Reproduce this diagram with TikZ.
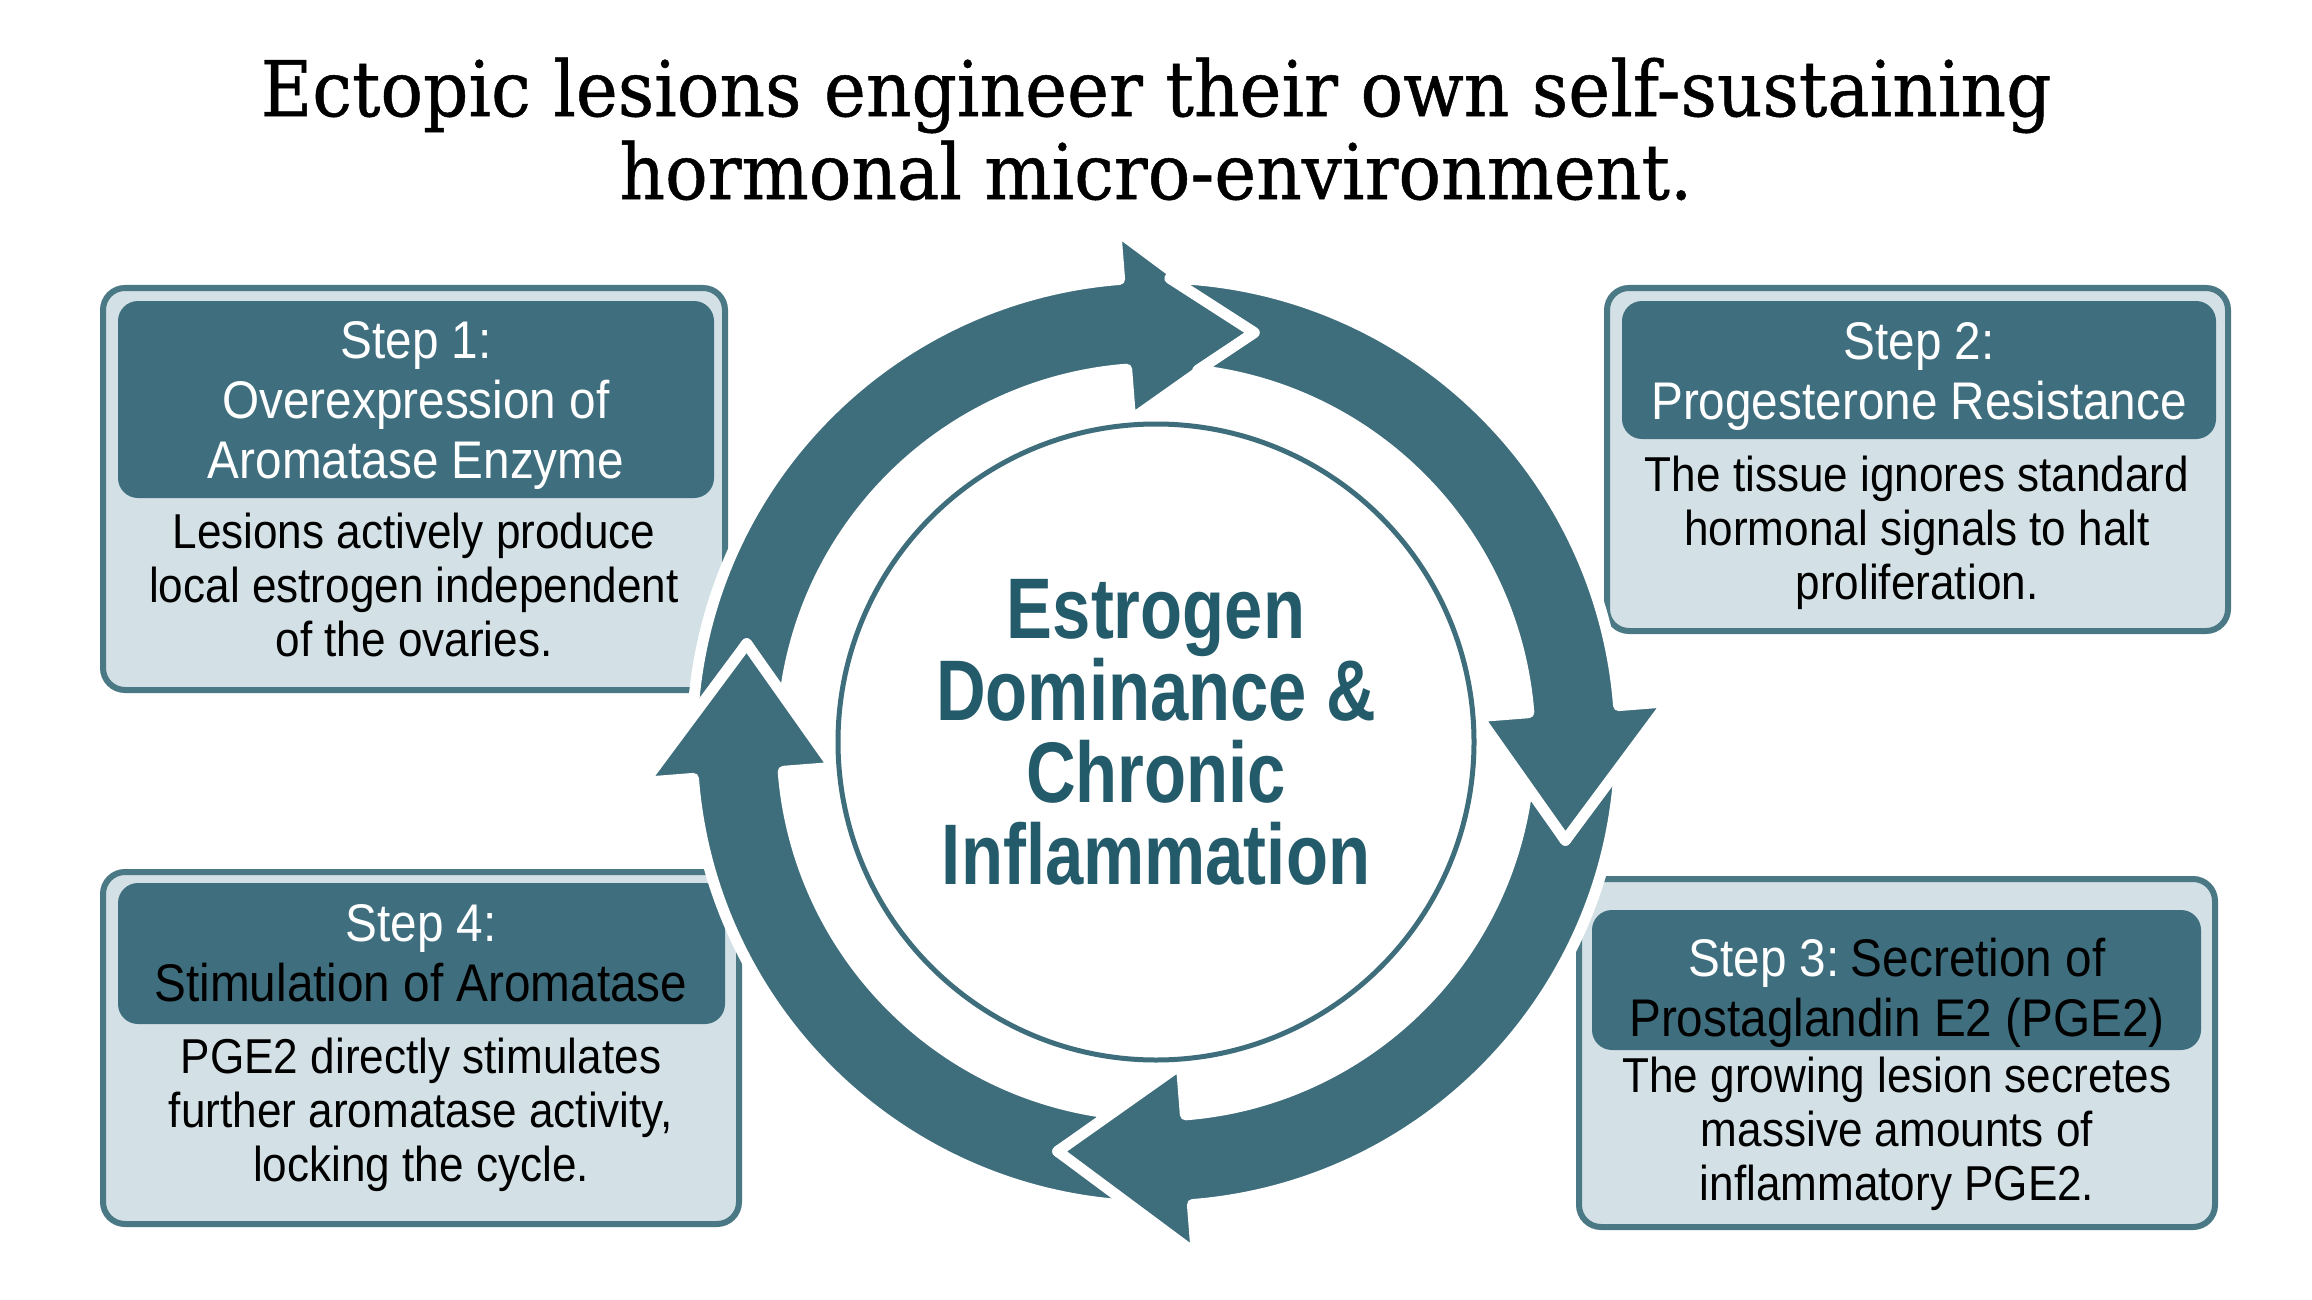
\documentclass[tikz,border=0pt]{standalone}
\usepackage{fontspec}
\setmainfont{Liberation Sans}
\newfontfamily\stepfont[FakeStretch=0.9]{Liberation Sans}
\newfontfamily\hubfont[FakeStretch=0.8]{Liberation Sans}
\newfontfamily\titlefont[FakeStretch=0.92,FakeBold=0.6]{DejaVu Serif}
\definecolor{ringc}{HTML}{3E6D7C}
\definecolor{headfill}{HTML}{3F6F7E}
\definecolor{boxline}{HTML}{4A7885}
\definecolor{boxfill}{HTML}{D3E1E6}
\definecolor{hubtext}{HTML}{245B6B}
\begin{document}
\begin{tikzpicture}[x=0.5pt,y=-0.5pt,
  outerbox/.style={draw=boxline, line width=3pt, fill=boxfill, rounded corners=11pt, inner sep=0pt},
  headbox/.style={fill=headfill, rounded corners=10pt, inner sep=0pt},
  headtext/.style={font=\stepfont\fontsize{26.5pt}{30pt}\selectfont, align=center, inner sep=0pt},
  bodytext/.style={font=\stepfont\fontsize{24.5pt}{27pt}\selectfont, align=center, text=black, inner sep=0pt},
  ringarrow/.style={fill=ringc, draw=white, line width=5.5pt, line join=round},
  titletext/.style={font=\titlefont\fontsize{38.5pt}{41.5pt}\selectfont, align=center, inner sep=0pt},
  hubtextstyle/.style={font=\hubfont\bfseries\fontsize{43pt}{41pt}\selectfont, align=center, text=hubtext, inner sep=0pt}
]
\useasboundingbox[fill=white] (0,0) rectangle (2312,1300);

% title
\node[titletext] (title) at (1156,129) {Ectopic lesions engineer their own self-sustaining\\hormonal micro-environment.};

% Step 1
\node[outerbox, minimum width=311pt, minimum height=201pt] (b1) at (414,489) {};
\node[headbox, minimum width=298pt, minimum height=98.5pt] (h1) at (416,399.5) {};
\node[headtext, text=white] (t1) at (416,405) {Step 1:\\Overexpression of\\Aromatase Enzyme};
\node[bodytext] (d1) at (414,585) {Lesions actively produce\\local estrogen independent\\of the ovaries.};

% Step 2
\node[outerbox, minimum width=310.5pt, minimum height=171.5pt] (b2) at (1917.5,459.5) {};
\node[headbox, minimum width=297pt, minimum height=69pt] (h2) at (1919,370) {};
\node[headtext, text=white] (t2) at (1919,376.5) {Step 2:\\Progesterone Resistance};
\node[bodytext] (d2) at (1917,532.5) {The tissue ignores standard\\hormonal signals to halt\\proliferation.};

% Step 3
\node[outerbox, minimum width=318pt, minimum height=174pt] (b3) at (1897,1053) {};
\node[headbox, minimum width=304.5pt, minimum height=70pt] (h3) at (1896.5,980) {};
\node[headtext, text=black] (t3) at (1897,992.5) {\textcolor{white}{Step 3:}\hspace{-0.12em} Secretion of\\Prostaglandin E2 (PGE2)};
\node[bodytext] (d3) at (1897,1133.5) {The growing lesion secretes\\massive amounts of\\inflammatory PGE2.};

% Step 4
\node[outerbox, minimum width=318pt, minimum height=176pt] (b4) at (421,1048) {};
\node[headbox, minimum width=303.5pt, minimum height=70.5pt] (h4) at (421.5,953.5) {};
\node[headtext, text=black] (t4) at (421,953) {\textcolor{white}{Step 4:}\\Stimulation of Aromatase};
\node[bodytext] (d4) at (421,1115) {PGE2 directly stimulates\\further aromatase activity,\\locking the cycle.};

% ring of arrows
\begin{scope}[shift={(1156,742)}, yscale=-1]
  \foreach \k in {0,1,2,3}{
    \begin{scope}[rotate=-90*\k]
      \path[ringarrow] (178.3:464) -- (166.5:421) -- (173.6:374)
        arc[start angle=173.6, end angle=94.5, radius=374]
        -- (94.5:323) -- (76.5:421) -- (94.5:514) -- (94.5:464)
        arc[start angle=94.5, end angle=178.3, radius=464] -- cycle;
    \end{scope}
  }
\end{scope}

% hub
\node[circle, draw=ringc, line width=2.5pt, fill=white, minimum size=318pt, inner sep=0pt] (hub) at (1156,742) {};
\node[hubtextstyle] (hubtxt) at (1156,732) {Estrogen\\Dominance \&\\Chronic\\Inflammation};
\end{tikzpicture}
\end{document}
